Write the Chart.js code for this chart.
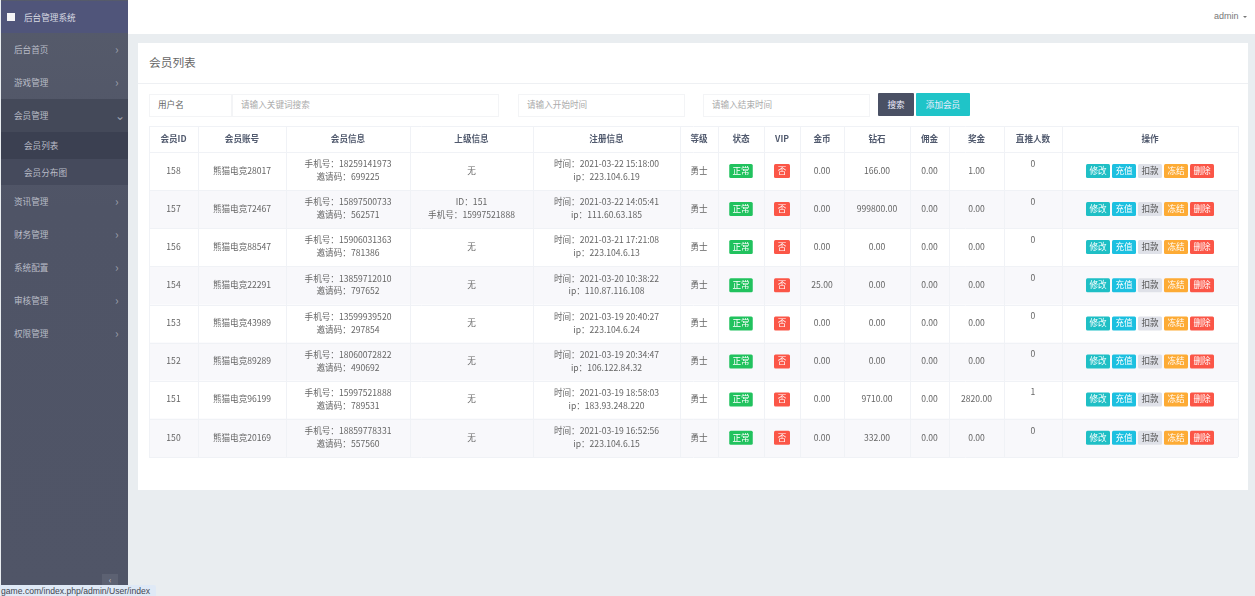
<!DOCTYPE html>
<html lang="zh-CN">
<head>
<meta charset="utf-8">
<title>会员列表</title>
<script src="https://cdn.jsdelivr.net/npm/chart.js@4/dist/chart.umd.min.js"></script>
<style>
html, body { margin: 0; padding: 0; width: 1255px; height: 596px; overflow: hidden; background: #e9edf0; }
body { font-family: "Noto Sans CJK SC", "Noto Sans", sans-serif; font-size: 8.6px; color: #666; filter: blur(0.3px); }
.abs { position: absolute; white-space: nowrap; }
#top { left: 128px; top: 0; width: 1127px; height: 34px; background: #fff; }
#admin { left: 1214px; top: 0; line-height: 33px; font-size: 9px; color: #777; font-family: "Liberation Sans", sans-serif; }
#caret { left: 1243px; top: 16px; width: 0; height: 0; border: 2.5px solid transparent; border-top-color: #777; }
#side { left: 1px; top: 0; width: 127px; height: 596px; background: linear-gradient(#565b6b, #4f5466 35%, #505567); }
#brand { left: 1px; top: 1px; width: 127px; height: 32px; background: #50557a; }
#brand i { position: absolute; left: 6px; top: 12px; width: 8px; height: 8px; background: #f4f4f6; }
#brand span { position: absolute; left: 23px; top: 0; line-height: 32px; color: #d8dae3; }
.item { left: 1px; width: 127px; color: #b9bcc7; }
.item b { position: absolute; left: 114px; top: -1px; font-weight: normal; font-size: 12px; color: #9a9eac; }
#collapse { left: 102px; top: 574px; width: 16px; height: 11px; background: #5c6172; color: #c9ccd5; text-align: center; line-height: 11px; }
#status { left: 0; top: 585px; width: 156px; height: 11px; background: #dfe9f6; border-radius: 0 2px 0 0; overflow: hidden; color: #3f4650; font: 8.6px/12px "Liberation Sans", sans-serif; }
#status span { margin-left: 1px; }
#panel { left: 138px; top: 43px; width: 1110px; height: 447px; background: #fff; }
#title { left: 149px; top: 43px; line-height: 38px; font-size: 11.7px; color: #666; }
#rule { left: 138px; top: 83px; width: 1110px; height: 1px; background: #eef0f3; }
.box { top: 94px; height: 21px; line-height: 18px; border: 1px solid #f3f4f6; box-sizing: content-box; color: #aaa; padding-left: 8px; background: #fff; }
.btn { top: 93px; height: 23px; line-height: 22px; color: #eef; text-align: center; border-radius: 1px; }
#table-box { left: 148px; top: 125px; width: 1091px; height: 333px; }
</style>
</head>
<body>
<div class="abs" id="top"></div>
<div class="abs" id="admin">admin</div>
<div class="abs" id="caret"></div>
<div class="abs" id="side"></div>
<div class="abs" id="brand"><i></i><span>后台管理系统</span></div>
<div id="menu"></div>
<div class="abs" id="collapse">‹</div>
<div class="abs" id="status"><span>game.com/index.php/admin/User/index</span></div>
<div class="abs" id="panel"></div>
<div class="abs" id="title">会员列表</div>
<div class="abs" id="rule"></div>
<div class="abs box" style="left:149px;width:73px;color:#666">用户名</div>
<div class="abs box" style="left:232px;width:257px">请输入关键词搜索</div>
<div class="abs box" style="left:518px;width:157px">请输入开始时间</div>
<div class="abs box" style="left:703px;width:157px">请输入结束时间</div>
<div class="abs btn" style="left:878px;width:36px;background:#4a5064">搜索</div>
<div class="abs btn" style="left:916px;width:54px;background:#1fc4c8">添加会员</div>
<div class="abs" id="table-box"><canvas id="member-table" width="1091" height="333"></canvas></div>

<script>
// table content, one entry per row from top to bottom
const headers = ['会员ID', '会员账号', '会员信息', '上级信息', '注册信息', '等级', '状态', 'VIP', '金币', '钻石', '佣金', '奖金', '直推人数', '操作'];
const memberIds = ['158', '157', '156', '154', '153', '152', '151', '150'];
const accounts = ['熊猫电竞28017', '熊猫电竞72467', '熊猫电竞88547', '熊猫电竞22291', '熊猫电竞43989', '熊猫电竞89289', '熊猫电竞96199', '熊猫电竞20169'];
const phones = ['18259141973', '15897500733', '15906031363', '13859712010', '13599939520', '18060072822', '15997521888', '18859778331'];
const inviteCodes = ['699225', '562571', '781386', '797652', '297854', '490692', '789531', '557560'];
const parents = [['无'], ['ID：151', '手机号：15997521888'], ['无'], ['无'], ['无'], ['无'], ['无'], ['无']];
const regTimes = ['2021-03-22 15:18:00', '2021-03-22 14:05:41', '2021-03-21 17:21:08', '2021-03-20 10:38:22', '2021-03-19 20:40:27', '2021-03-19 20:34:47', '2021-03-19 18:58:03', '2021-03-19 16:52:56'];
const regIps = ['223.104.6.19', '111.60.63.185', '223.104.6.13', '110.87.116.108', '223.104.6.24', '106.122.84.32', '183.93.248.220', '223.104.6.15'];
const levels = ['勇士', '勇士', '勇士', '勇士', '勇士', '勇士', '勇士', '勇士'];
const statuses = ['正常', '正常', '正常', '正常', '正常', '正常', '正常', '正常'];
const vips = ['否', '否', '否', '否', '否', '否', '否', '否'];
const gold = ['0.00', '0.00', '0.00', '25.00', '0.00', '0.00', '0.00', '0.00'];
const diamonds = ['166.00', '999800.00', '0.00', '0.00', '0.00', '0.00', '9710.00', '332.00'];
const commission = ['0.00', '0.00', '0.00', '0.00', '0.00', '0.00', '0.00', '0.00'];
const bonus = ['1.00', '0.00', '0.00', '0.00', '0.00', '0.00', '2820.00', '0.00'];
const directCounts = ['0', '0', '0', '0', '0', '0', '1', '0'];
const actions = ['修改', '充值', '扣款', '冻结', '删除'];
const sideItems = ['后台首页', '游戏管理', '会员管理', '会员列表', '会员分布图', '资讯管理', '财务管理', '系统配置', '审核管理', '权限管理'];

// layout, the axes run in table pixels
const colWidths = [49, 88, 124, 123, 147, 38, 46, 36, 44, 66, 39, 55, 58, 176];
const rowHeights = [26, 38, 38, 38, 38.5, 38, 38, 38, 38.5];
const actionColors = ['#1fbfc5', '#1cc0e0', '#dfe1e8', '#fdab35', '#fb5647'];
const sideTops = [33, 66, 99, 132, 159, 185, 218, 251, 284, 317];
const sideHeights = [33, 33, 33, 27, 26, 33, 33, 33, 33, 33];
const sideColors = ['', '', '#444959', '#3b4051', '#454a5c', '', '', '', '', ''];

const edges = sizes => sizes.reduce((acc, s) => acc.concat(acc[acc.length - 1] + s), [0]);
const colEdges = edges(colWidths);
const rowEdges = edges(rowHeights);
const colMid = c => (colEdges[c] + colEdges[c + 1]) / 2;
const rowMid = r => (rowEdges[r] + rowEdges[r + 1]) / 2;

// sidebar
const menu = document.getElementById('menu');
sideItems.forEach((name, i) => {
    const sub = i === 3 || i === 4;
    const div = document.createElement('div');
    div.className = 'abs item';
    div.style.top = sideTops[i] + 'px';
    div.style.height = sideHeights[i] + 'px';
    div.style.lineHeight = sideHeights[i] + 'px';
    div.style.background = sideColors[i];
    div.style.paddingLeft = (sub ? 23 : 13) + 'px';
    div.style.width = (sub ? 104 : 114) + 'px';
    div.innerHTML = name + (sub ? '' : '<b>' + (i === 2 ? '⌄' : '›') + '</b>');
    menu.appendChild(div);
});

// one scatter dataset per column, the plugin writes the text at each parsed point
const column = (col, values, extra) => Object.assign({
    data: values.map((v, r) => ({ x: colMid(col), y: rowMid(r + 1), text: [].concat(v) })),
    pointRadius: 0
}, extra);

const headerSet = {
    data: headers.map((h, c) => ({ x: colMid(c), y: rowMid(0), text: [h] })),
    pointRadius: 0,
    bold: true
};

const actionSets = actions.map((name, k) => ({
    data: memberIds.map((id, r) => ({ x: colMid(13) + (k - 2) * 26, y: rowMid(r + 1), text: [name] })),
    pointRadius: 0,
    badge: actionColors[k],
    badgeWidth: 24,
    textColor: k === 2 ? '#555' : '#fff'
}));

const tablePlugin = {
    id: 'tablePlugin',
    beforeDatasetsDraw(chart) {
        const { ctx, scales: { x, y } } = chart;
        ctx.save();
        ctx.fillStyle = '#f8f8fb';
        rowEdges.slice(1, -1).forEach((top, r) => {
            if (r % 2 === 1) {
                ctx.fillRect(x.left, y.getPixelForValue(top), x.width, y.getPixelForValue(rowEdges[r + 2]) - y.getPixelForValue(top));
            }
        });
        // grid over the stripes
        ctx.strokeStyle = '#f0f2f6';
        ctx.lineWidth = 1;
        ctx.beginPath();
        colEdges.forEach(v => {
            const px = Math.round(x.getPixelForValue(v)) + 0.5;
            ctx.moveTo(px, y.top);
            ctx.lineTo(px, y.bottom);
        });
        rowEdges.forEach(v => {
            const py = Math.round(y.getPixelForValue(v)) + 0.5;
            ctx.moveTo(x.left, py);
            ctx.lineTo(x.right, py);
        });
        ctx.stroke();
        ctx.restore();
    },
    afterDatasetsDraw(chart) {
        const { ctx } = chart;
        ctx.save();
        ctx.textAlign = 'center';
        ctx.textBaseline = 'middle';
        chart.data.datasets.forEach((set, d) => {
            chart.getDatasetMeta(d).data.forEach((pt, i) => {
                const lines = set.data[i].text;
                const py = pt.y + (set.shiftY || 0);
                if (set.badge) {
                    ctx.fillStyle = set.badge;
                    ctx.beginPath();
                    ctx.roundRect(pt.x - set.badgeWidth / 2, py - 7, set.badgeWidth, 14, 1.5);
                    ctx.fill();
                }
                ctx.font = (set.bold ? 'bold ' : '') + '8.6px "Noto Sans CJK SC"';
                ctx.fillStyle = set.textColor || (set.bold ? '#515a6e' : '#666');
                lines.forEach((line, l) => {
                    ctx.fillText(line, pt.x, py - 0.5 + (l - (lines.length - 1) / 2) * 12.7);
                });
            });
        });
        ctx.restore();
    }
};

new Chart(document.getElementById('member-table'), {
    type: 'scatter',
    data: {
        datasets: [
            headerSet,
            column(0, memberIds),
            column(1, accounts),
            column(2, phones.map((p, r) => ['手机号：' + p, '邀请码：' + inviteCodes[r]])),
            column(3, parents),
            column(4, regTimes.map((t, r) => ['时间：' + t, 'ip：' + regIps[r]])),
            column(5, levels),
            column(6, statuses, { badge: '#21c25e', badgeWidth: 23.5, textColor: '#fff' }),
            column(7, vips, { badge: '#fb5647', badgeWidth: 16, textColor: '#fff' }),
            column(8, gold),
            column(9, diamonds),
            column(10, commission),
            column(11, bonus),
            column(12, directCounts, { shiftY: -7 })
        ].concat(actionSets)
    },
    options: {
        responsive: false,
        animation: false,
        events: [],
        layout: { padding: 1 },
        plugins: { legend: { display: false }, tooltip: { enabled: false } },
        scales: {
            x: { type: 'linear', display: false, min: 0, max: colEdges[colEdges.length - 1] },
            y: { type: 'linear', display: false, reverse: true, min: 0, max: rowEdges[rowEdges.length - 1] }
        }
    },
    plugins: [tablePlugin]
});
</script>
</body>
</html>
